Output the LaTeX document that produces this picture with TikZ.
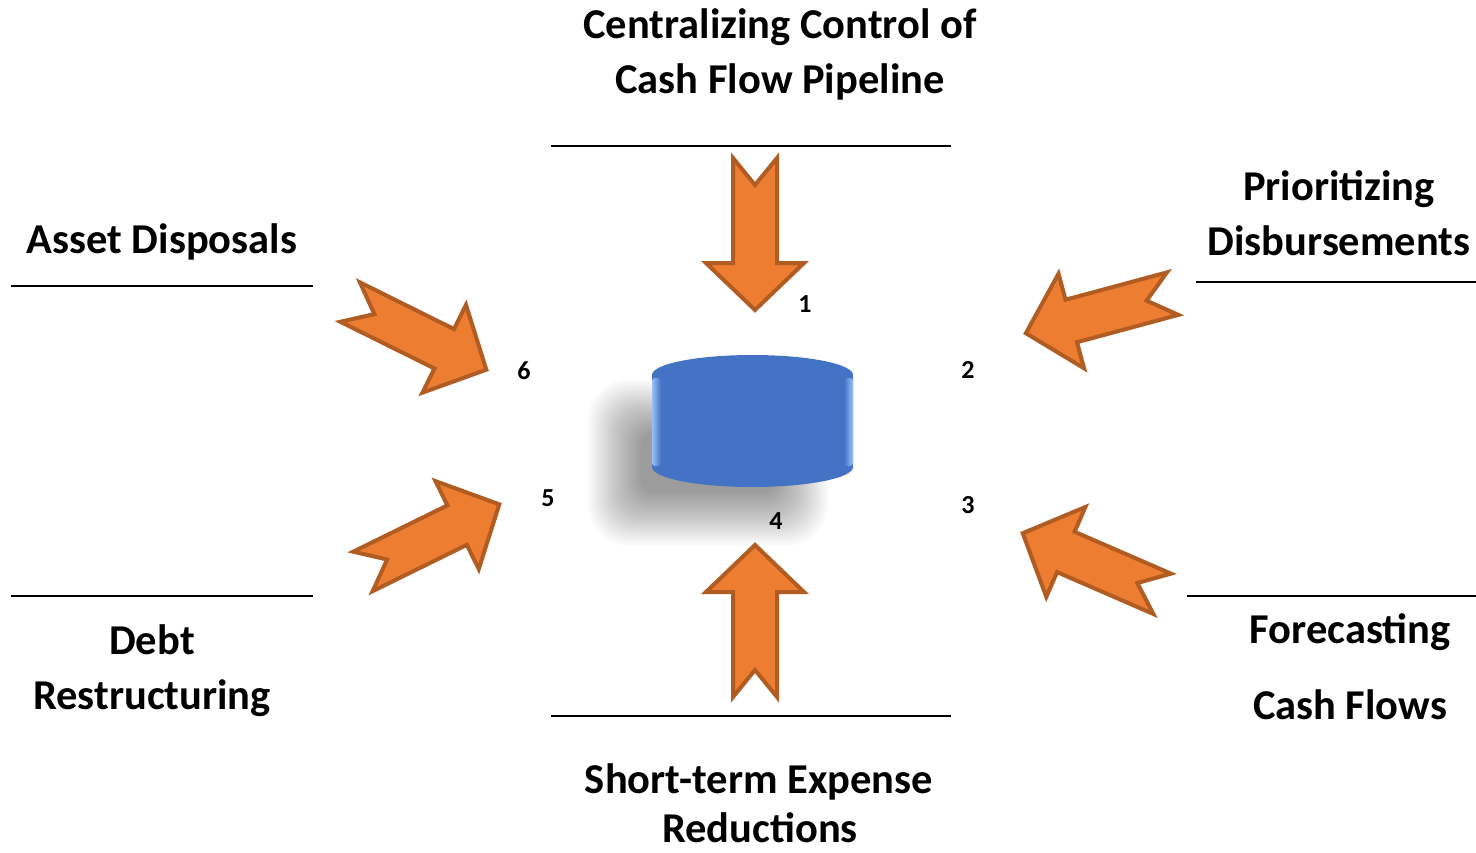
\documentclass[tikz,border=0pt]{standalone}
\usepackage{fontspec}
\setmainfont{Carlito}
\definecolor{arrfill}{HTML}{ED7D31}
\definecolor{arrline}{HTML}{B05C22}
\definecolor{cylblue}{HTML}{4472C4}
\definecolor{cylhl}{HTML}{9CC0F5}
\tikzset{
  lbl/.style={font=\fontsize{42.5}{50}\selectfont\bfseries, anchor=base, inner sep=0pt},
  num/.style={font=\fontsize{26}{30}\selectfont\bfseries, anchor=center, inner sep=0pt},
  rule/.style={line width=1.8pt, black},
  arrowstyle/.style={fill=arrfill, draw=arrline, line width=4pt, line join=miter},
  notcharrow/.pic={
    \draw[arrowstyle] (-3,0) -- (-50,49) -- (-50,22) -- (-155,22) -- (-128,0)
      -- (-155,-22) -- (-50,-22) -- (-50,-49) -- cycle;
  }
}
\begin{document}
\begin{tikzpicture}[x=1pt,y=-1pt]
\useasboundingbox[fill=white] (0,0) rectangle (1476,852);

% soft shadow of the cylinder
\foreach \i in {0,...,21} {
  \fill[black, opacity=0.02, rounded corners={(40-1.2*\i)*1pt}]
    (588+2.5*\i, 380+2.5*\i) rectangle (828-2.5*\i, 545-2.5*\i);
}

% cylinder
\fill[cylblue] (652,375) -- (652,467)
  arc[start angle=180, end angle=0, x radius=100.5, y radius=20]
  -- (853,375)
  arc[start angle=0, end angle=-180, x radius=100.5, y radius=20] -- cycle;
\shade[left color=cylhl, right color=cylblue, rounded corners=3pt] (652,378) rectangle (661,466);
\shade[left color=cylblue, right color=cylhl, rounded corners=3pt] (844,378) rectangle (853,466);
\node[inner sep=0pt, minimum width=201pt, minimum height=132pt] (cyl) at (752.5,421) {};

% rules
\draw[rule] (551,146) -- (951,146);
\draw[rule] (11,286) -- (313,286);
\draw[rule] (1196,282) -- (1476,282);
\draw[rule] (11,596) -- (313,596);
\draw[rule] (1187,596) -- (1476,596);
\draw[rule] (551,716) -- (951,716);

% arrows
\pic[shift={(755,313)}, rotate=-90] {notcharrow};
\pic[shift={(755,542)}, rotate=90] {notcharrow};
\pic[shift={(489,371)}, rotate=-26.4] {notcharrow};
\pic[shift={(502,503)}, rotate=26.2] {notcharrow};
\pic[shift={(1023,334)}, rotate=195.1] {notcharrow};
\pic[shift={(1020,532)}, rotate=156.5] {notcharrow};

% numbers
\node[num] (n1) at (805,304) {1};
\node[num] (n2) at (968,370) {2};
\node[num] (n3) at (968,505) {3};
\node[num] (n4) at (776,521) {4};
\node[num] (n5) at (548,498) {5};
\node[num] (n6) at (524,371) {6};

% labels
\node[lbl] (t1a) at (780,38) {Centralizing Control of};
\node[lbl] (t1b) at (780,93) {Cash Flow Pipeline};
\node[lbl] (t6) at (162,253) {Asset Disposals};
\node[lbl] (t2a) at (1339,200) {Prioritizing};
\node[lbl] (t2b) at (1339,255) {Disbursements};
\node[lbl] (t5a) at (152,654) {Debt};
\node[lbl] (t5b) at (152,709) {Restructuring};
\node[lbl] (t3a) at (1350,643) {Forecasting};
\node[lbl] (t3b) at (1350,719) {Cash Flows};
\node[lbl] (t4a) at (759,793) {Short-term Expense};
\node[lbl] (t4b) at (760,842) {Reductions};
\end{tikzpicture}
\end{document}
